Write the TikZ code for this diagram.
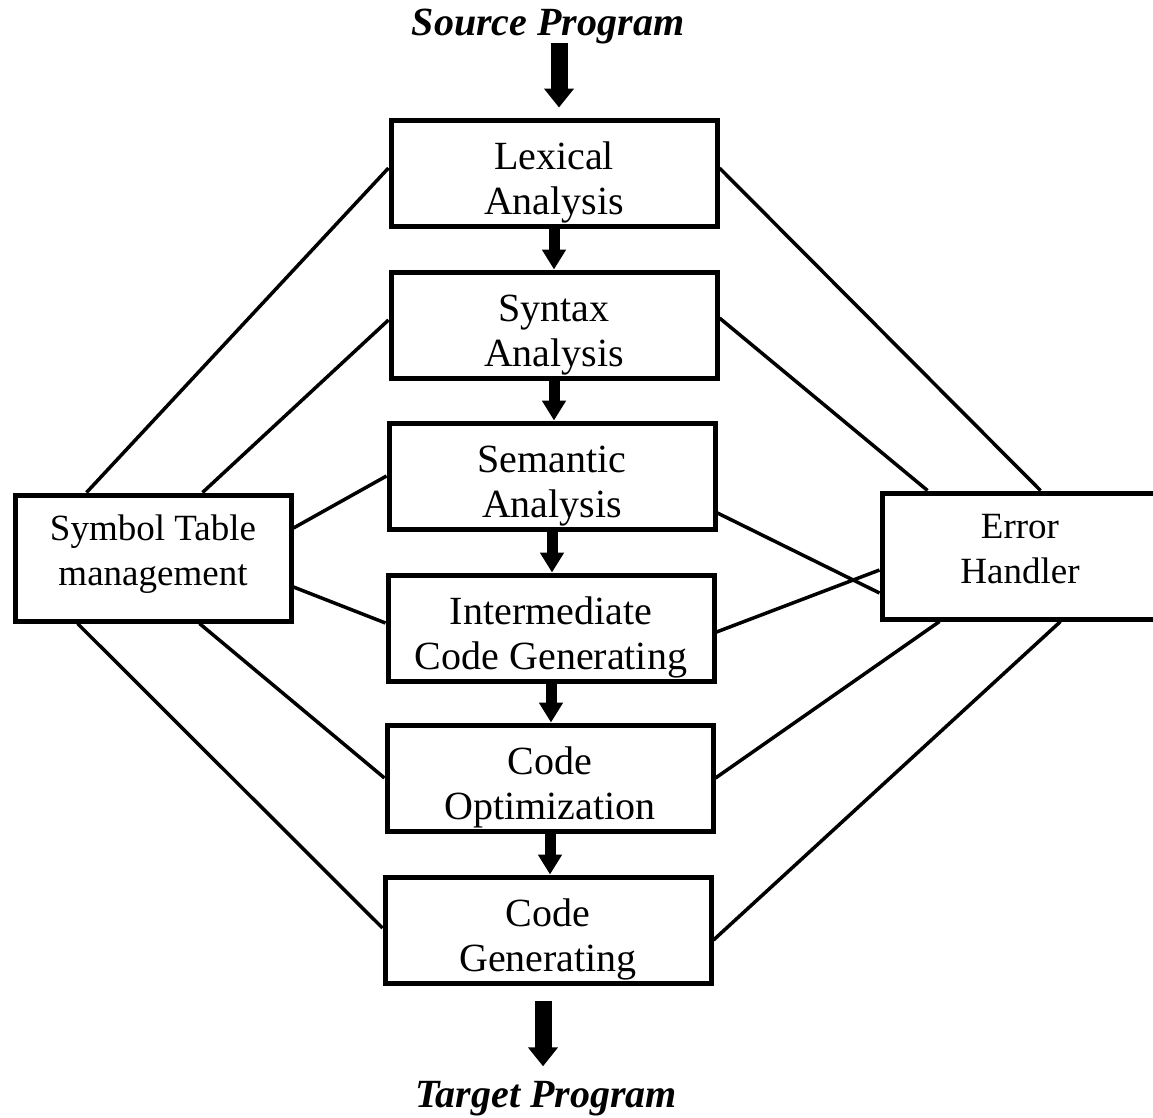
\documentclass[tikz,border=0pt]{standalone}
\usepackage{fontspec}
\setmainfont{Liberation Serif}
\usetikzlibrary{arrows.meta}
\tikzset{phase/.style={draw, line width=5pt, minimum width=326pt, minimum height=106pt, inner sep=0pt,
				align=center, font=\fontsize{40}{45}\selectfont, text height=82pt, text depth=0pt},
			side/.style={draw, line width=5pt, minimum width=276pt, minimum height=126pt, inner sep=0pt,
				align=center, font=\fontsize{37}{45}\selectfont, text height=54pt, text depth=0pt},
			link/.style={line width=3.5pt},
			flow/.style={line width=11pt, -{Triangle[width=23pt,length=20pt]}},
			bigflow/.style={line width=17pt, -{Triangle[width=29pt,length=19pt]}},
			progname/.style={font=\fontsize{40}{45}\selectfont\bfseries\itshape}}

\begin{document}
\begin{tikzpicture}[x=1pt, y=-1pt]

					\useasboundingbox (0,0) rectangle (1153,1117);

					\node[progname, anchor=base] (src) at (548,35) {Source Program};
					\node[progname, anchor=base] (tgt) at (546,1107) {Target Program};

					\node[phase] (lex) at (554,173) {Lexical\\Analysis};
					\node[phase] (syn) at (554,325) {Syntax\\Analysis};
					\node[phase] (sem) at (552,476) {Semantic\\Analysis};
					\node[phase] (int) at (551,628) {Intermediate\\Code Generating};
					\node[phase] (opt) at (550,778) {Code\\Optimization};
					\node[phase] (gen) at (548,930) {Code\\Generating};

					\node[side] (sym) at (153,558) {Symbol Table\\management};
					\node[side] (err) at (1020,556) {Error\\Handler};

					\draw[bigflow] ([xshift=5pt,yshift=4pt]lex.north |- src.south) -- ([xshift=5pt,yshift=10pt]lex.north);
					\draw[flow] (lex.south) -- (lex.south |- syn.north);
					\draw[flow] (syn.south) -- (syn.south |- sem.north);
					\draw[flow] (sem.south) -- (sem.south |- int.north);
					\draw[flow] (int.south) -- (int.south |- opt.north);
					\draw[flow] (opt.south) -- (opt.south |- gen.north);
					\draw[bigflow] ([xshift=-5pt,yshift=-15pt]gen.south) -- ([xshift=-5pt,yshift=11pt]gen.south |- tgt.north);

					\draw[link] ([xshift=74pt]sym.north west) -- ([yshift=5pt]lex.west);
					\draw[link] ([xshift=190pt]sym.north west) -- ([yshift=5pt]syn.west);
					\draw[link] ([yshift=30pt]sym.east) -- (sem.west);
					\draw[link] ([yshift=-29pt]sym.east) -- ([yshift=5pt]int.west);
					\draw[link] ([xshift=187pt]sym.south west) -- (opt.west);
					\draw[link] ([xshift=65pt]sym.south west) -- ([yshift=2pt]gen.west);

					\draw[link] ([yshift=5pt]lex.east) -- ([xshift=161pt]err.north west);
					\draw[link] ([yshift=7pt]syn.east) -- ([xshift=48pt]err.north west);
					\draw[link] ([yshift=-37pt]sem.east) -- ([yshift=-37pt]err.west);
					\draw[link] ([yshift=-4pt]int.east) -- ([yshift=-14pt]err.west);
					\draw[link] (opt.east) -- ([xshift=60pt]err.south west);
					\draw[link] ([yshift=-10pt]gen.east) -- ([xshift=181pt]err.south west);

\end{tikzpicture}
\end{document}
